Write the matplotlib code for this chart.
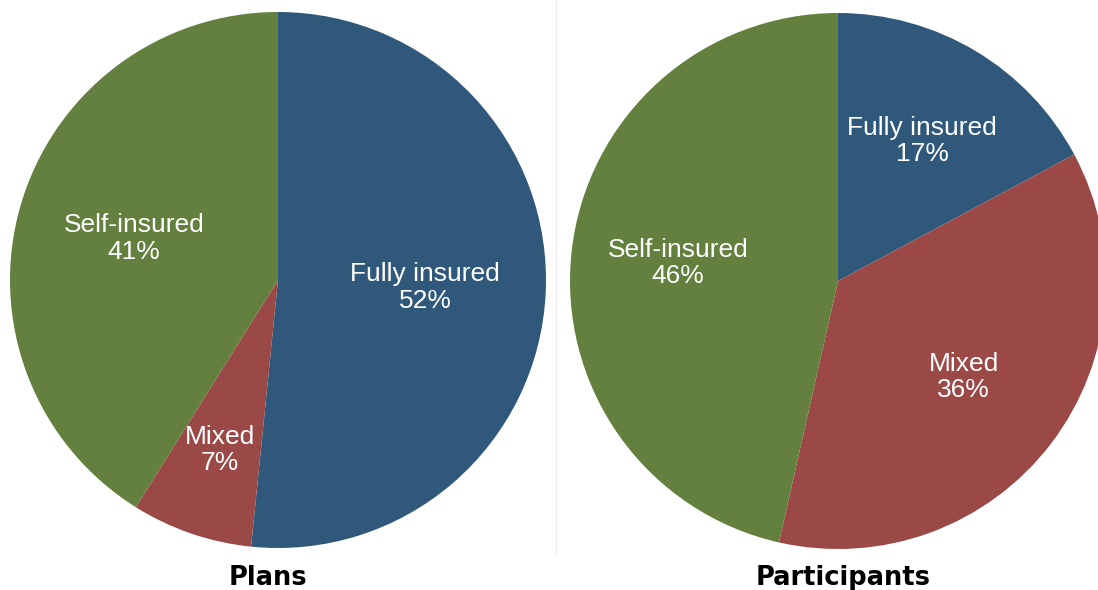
import numpy as np
import matplotlib.pyplot as plt
from matplotlib.lines import Line2D

categories = ["Fully insured", "Mixed", "Self-insured"]
# wedge shares; labels show the rounded values
plans = [51.6, 7.3, 41.1]
plans_lbl = [52, 7, 41]
participants = [17, 36, 46]
participants_lbl = [17, 36, 46]
titles = ["Plans", "Participants"]

colors = ["#30587B", "#9A4947", "#63803E"]
# label distance per wedge
label_dist = [[0.55, 0.67, 0.56], [0.61, 0.59, 0.60]]

fig = plt.figure(figsize=(10.98, 5.90), dpi=100)
W, H = 1098, 590
boxes = [(10, 42, 536), (570, 41, 536)]


def draw_pie(box, values, lbls, dists, title, tx):
    x0, y0, s = box
    ax = fig.add_axes([x0 / W, y0 / H, s / W, s / H])
    wedges, texts = ax.pie(values, colors=colors, startangle=90, counterclock=False,
                           radius=1.0, wedgeprops=dict(linewidth=0))
    for w, lab, v, d in zip(wedges, categories, lbls, dists):
        ang = np.deg2rad((w.theta1 + w.theta2) / 2)
        ax.text(d * np.cos(ang), d * np.sin(ang), f"{lab}\n{v}%",
                ha="center", va="center", color="white", fontsize=19,
                family="Liberation Sans", linespacing=1.12)
    ax.set_xlim(-1, 1)
    ax.set_ylim(-1, 1)
    ax.set_aspect("equal")
    ax.axis("off")
    fig.text(tx / W, 1 - 578 / H, title, ha="center", va="center",
             fontsize=18.5, fontweight="bold", family="DejaVu Sans")


draw_pie(boxes[0], plans, plans_lbl, label_dist[0], titles[0], 268)
draw_pie(boxes[1], participants, participants_lbl, label_dist[1], titles[1], 843)

fig.add_artist(Line2D([556 / W, 556 / W], [1 - 555 / H, 1.0], color="#eeeeee", lw=1))

fig.savefig("out.png", dpi=100)
